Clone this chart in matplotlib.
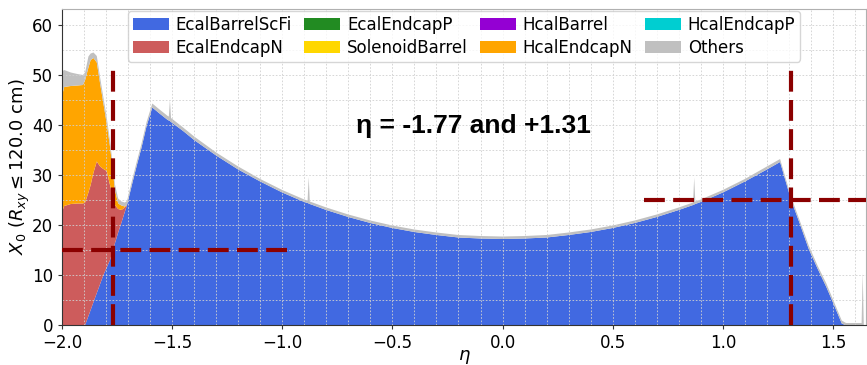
import matplotlib
matplotlib.use("Agg")
import matplotlib.pyplot as plt
from matplotlib.ticker import MultipleLocator

# ---- data ----
eta = [-2.00, -1.99, -1.96, -1.93, -1.905, -1.895, -1.88, -1.87, -1.857, -1.842,
       -1.827, -1.812, -1.797, -1.782, -1.767, -1.76, -1.745, -1.73, -1.715, -1.705,
       -1.68, -1.66, -1.64, -1.616, -1.59, -1.56, -1.52, -1.515, -1.51, -1.505,
       -1.45, -1.40, -1.30, -1.20, -1.10, -1.00, -0.90, -0.885, -0.88, -0.875,
       -0.80, -0.70, -0.60, -0.50, -0.40, -0.30, -0.20, -0.10, 0.00, 0.10,
       0.20, 0.30, 0.40, 0.50, 0.60, 0.70, 0.80, 0.865, 0.87, 0.875,
       0.90, 1.00, 1.10, 1.20, 1.26, 1.31, 1.35, 1.39, 1.43, 1.47,
       1.505, 1.54, 1.555, 1.56, 1.63, 1.635, 1.64, 1.65]

ecal_barrel_scfi = [0, 0, 0, 0, 0, 0, 1.8, 3.0, 4.6, 6.4,
                    8.2, 10.0, 11.5, 13.0, 15.2, 16.3, 18.5, 20.5, 22.6, 24.0,
                    28.5, 32.0, 35.3, 39.8, 43.5, 42.4, 41.0, 40.9, 40.8, 40.6,
                    38.8, 37.0, 33.9, 31.1, 28.7, 26.5, 24.6, 24.4, 24.3, 24.2,
                    23.0, 21.6, 20.4, 19.4, 18.6, 18.0, 17.5, 17.3, 17.2, 17.3,
                    17.5, 18.0, 18.6, 19.4, 20.4, 21.6, 23.0, 24.0, 24.1, 24.2,
                    24.6, 26.5, 28.7, 31.1, 32.6, 25.0, 20.2, 15.2, 11.3, 7.6,
                    4.0, 0.3, 0, 0, 0, 0, 0, 0]

ecal_endcap_n = [22.6, 23.8, 24.2, 24.3, 24.3, 24.5, 24.7, 25.0, 25.9, 26.3,
                 23.5, 21.2, 19.3, 15.0, 10.3, 7.7, 4.7, 2.5, 0.9, 0,
                 0, 0, 0, 0, 0, 0, 0, 0, 0, 0,
                 0, 0, 0, 0, 0, 0, 0, 0, 0, 0,
                 0, 0, 0, 0, 0, 0, 0, 0, 0, 0,
                 0, 0, 0, 0, 0, 0, 0, 0, 0, 0,
                 0, 0, 0, 0, 0, 0, 0, 0, 0, 0,
                 0, 0, 0, 0, 0, 0, 0, 0]

ecal_endcap_p = [0.0] * len(eta)
solenoid_barrel = [0.0] * len(eta)
hcal_barrel = [0.0] * len(eta)

hcal_endcap_n = [23.2, 23.8, 23.6, 23.6, 23.7, 24.5, 25.0, 25.0, 22.9, 19.8,
                 16.6, 13.1, 9.5, 7.7, 4.5, 3.0, 1.1, 0.9, 0.2, 0,
                 0, 0, 0, 0, 0, 0, 0, 0, 0, 0,
                 0, 0, 0, 0, 0, 0, 0, 0, 0, 0,
                 0, 0, 0, 0, 0, 0, 0, 0, 0, 0,
                 0, 0, 0, 0, 0, 0, 0, 0, 0, 0,
                 0, 0, 0, 0, 0, 0, 0, 0, 0, 0,
                 0, 0, 0, 0, 0, 0, 0, 0]

hcal_endcap_p = [0.0] * len(eta)

others = [4.9, 3.4, 2.7, 2.3, 2.0, 1.5, 2.2, 1.3, 1.1, 1.3,
          1.2, 1.2, 1.2, 1.1, 1.2, 1.2, 1.0, 0.8, 0.8, 0.8,
          0.8, 0.8, 0.8, 0.8, 0.8, 0.8, 0.8, 0.8, 4.2, 0.8,
          0.7, 0.7, 0.6, 0.6, 0.5, 0.5, 0.5, 0.5, 5.3, 0.5,
          0.5, 0.5, 0.5, 0.5, 0.5, 0.5, 0.5, 0.5, 0.5, 0.5,
          0.5, 0.5, 0.5, 0.5, 0.5, 0.5, 0.5, 0.5, 5.4, 0.5,
          0.5, 0.5, 0.5, 0.6, 0.6, 0.6, 0.6, 0.7, 0.6, 0.7,
          0.6, 0.6, 0.5, 0.4, 0.4, 10.4, 0, 0]

labels = ["EcalBarrelScFi", "EcalEndcapN", "EcalEndcapP", "SolenoidBarrel",
          "HcalBarrel", "HcalEndcapN", "HcalEndcapP", "Others"]
colors = ["royalblue", "indianred", "forestgreen", "gold",
          "darkviolet", "orange", "darkturquoise", "silver"]

# marked eta values and corresponding X0 levels
eta_marks = [-1.77, 1.31]
x0_marks = [15.0, 25.0]
hline_spans = [(-2.0, -0.95), (0.64, 1.65)]
vline_top = 51.6
title_text = "η = -1.77 and +1.31"

# ---- plot ----
fig = plt.figure(figsize=(8.67, 3.65), dpi=100)
ax = fig.add_axes([62 / 867, 40 / 365, (866 - 62) / 867, 316 / 365])

ax.stackplot(eta, ecal_barrel_scfi, ecal_endcap_n, ecal_endcap_p, solenoid_barrel,
             hcal_barrel, hcal_endcap_n, hcal_endcap_p, others,
             colors=colors, labels=labels, linewidth=0)

for e, (x0, x1), lv in zip(eta_marks, hline_spans, x0_marks):
    ax.plot([e, e], [0, vline_top], color="darkred", lw=3, dashes=(5, 2), zorder=3)
    ax.plot([x0, x1], [lv, lv], color="darkred", lw=3, dashes=(5, 2), zorder=3)

ax.text(-0.13, 38.4, title_text, fontsize=19, fontweight="bold",
        family=["Liberation Sans", "DejaVu Sans"], ha="center", va="baseline")

ax.set_xlim(-2.0, 1.65)
ax.set_ylim(0, 63.2)
ax.xaxis.set_major_locator(MultipleLocator(0.5))
ax.xaxis.set_minor_locator(MultipleLocator(0.1))
ax.yaxis.set_major_locator(MultipleLocator(10))
ax.yaxis.set_minor_locator(MultipleLocator(5))
ax.tick_params(which="major", direction="out", length=3, labelsize=12,
               color="#333333")
ax.tick_params(which="minor", length=0)
ax.grid(True, which="both", linestyle=(0, (2, 2)), linewidth=0.6, color="#d0d0d0")

ax.set_xlabel(r"$\eta$", fontsize=13, labelpad=-3)
ax.set_ylabel(r"$X_0$ ($R_{xy} \leq 120.0$ cm)", fontsize=13, labelpad=0)

ax.spines["left"].set_color("#333333")
ax.spines["bottom"].set_color("#333333")
ax.spines["top"].set_color("#b0b0b0")
ax.spines["right"].set_color("#b0b0b0")

ax.legend(loc="upper center", ncol=4, fontsize=12, handlelength=2.2,
          handleheight=0.8, handletextpad=0.4, columnspacing=0.7,
          labelspacing=0.3, borderpad=0.3, borderaxespad=0.1)

fig.savefig("out.png", dpi=100)
